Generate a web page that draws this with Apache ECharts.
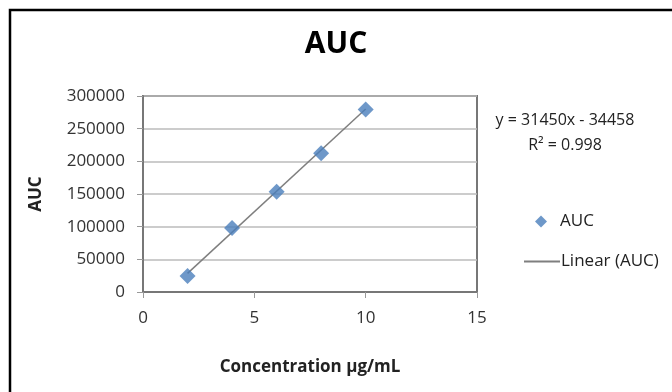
<!DOCTYPE html>
<html>
<head>
<meta charset="utf-8">
<script src="https://cdn.jsdelivr.net/npm/echarts@6/dist/echarts.min.js"></script>
<style>
  html, body { margin: 0; padding: 0; background: #fff; }
  #chart { width: 672px; height: 392px; }
</style>
</head>
<body>
<div id="chart"></div>
<script>
// measured points (concentration, AUC)
const concentration = [2, 4, 6, 8, 10]
const aucValues = [24500, 98000, 153500, 212500, 279500]
// trendline ends, from y = 31450x - 34458
const trendX = [2, 10]
const trendY = [28442, 280042]
const xTicks = [0, 5, 10, 15]
const yTicks = [0, 50000, 100000, 150000, 200000, 250000, 300000]

const fontFamily = '"Open Sans", "Noto Sans", sans-serif'

const chart = echarts.init(document.getElementById('chart'))

chart.setOption({
  animation: false,
  textStyle: { fontFamily: fontFamily },
  title: {
    text: 'AUC',
    left: 'center',
    top: 24,
    textStyle: { fontSize: 30, fontWeight: 'bold', color: '#000', fontFamily: fontFamily }
  },
  grid: {
    left: 143,
    right: 195,
    top: 96,
    bottom: 100,
    show: true,
    borderColor: '#777',
    borderWidth: 2
  },
  legend: [
    {
      data: [{ name: 'AUC', icon: 'diamond' }],
      left: 530,
      top: 208,
      itemWidth: 12,
      itemHeight: 12,
      textStyle: { fontSize: 17, color: '#222', padding: [0, 0, 0, 8] }
    },
    {
      data: [{ name: 'Linear (AUC)', icon: 'rect' }],
      left: 519,
      top: 248,
      itemWidth: 36,
      itemHeight: 2,
      itemStyle: { color: '#7f7f7f' },
      textStyle: { fontSize: 17, color: '#222', padding: [0, 0, 0, -4] }
    }
  ],
  xAxis: {
    type: 'value',
    min: xTicks[0],
    max: xTicks[xTicks.length - 1],
    interval: 5,
    name: 'Concentration µg/mL',
    nameLocation: 'middle',
    nameGap: 67,
    nameTextStyle: { fontSize: 17, fontWeight: 'bold', color: '#222' },
    axisLine: { lineStyle: { color: '#777', width: 2 } },
    axisTick: { show: true, length: 6, lineStyle: { color: '#999' } },
    axisLabel: { fontSize: 17, color: '#333', margin: 18 },
    splitLine: { show: false }
  },
  yAxis: {
    type: 'value',
    min: yTicks[0],
    max: yTicks[yTicks.length - 1],
    interval: 50000,
    name: 'AUC',
    nameLocation: 'middle',
    nameGap: 98,
    nameTextStyle: { fontSize: 17, fontWeight: 'bold', color: '#222' },
    axisLine: { show: true, lineStyle: { color: '#777', width: 2 } },
    axisTick: { show: true, length: 6, lineStyle: { color: '#999' } },
    axisLabel: { fontSize: 17, color: '#333', margin: 18, formatter: (v) => String(v) },
    splitLine: { show: true, lineStyle: { color: '#bbb', width: 1.5 } }
  },
  series: [
    {
      name: 'Linear (AUC)',
      type: 'line',
      data: trendX.map((x, i) => [x, trendY[i]]),
      showSymbol: false,
      symbol: 'none',
      lineStyle: { color: '#7f7f7f', width: 1.5 },
      itemStyle: { color: '#7f7f7f' },
      z: 2
    },
    {
      name: 'AUC',
      type: 'scatter',
      data: concentration.map((x, i) => [x, aucValues[i]]),
      symbol: 'diamond',
      symbolSize: 16,
      itemStyle: { color: '#4a7ebb' },
      z: 3
    }
  ],
  graphic: [
    {
      type: 'rect',
      shape: { x: 10, y: 10, width: 700, height: 420 },
      style: { fill: 'none', stroke: '#000', lineWidth: 2.5 },
      silent: true
    },
    {
      type: 'text',
      x: 565,
      y: 108,
      style: {
        text: 'y = 31450x - 34458\nR² = 0.998',
        align: 'center',
        fontSize: 16,
        lineHeight: 25,
        fontFamily: fontFamily,
        fill: '#222'
      }
    }
  ]
})
</script>
</body>
</html>
